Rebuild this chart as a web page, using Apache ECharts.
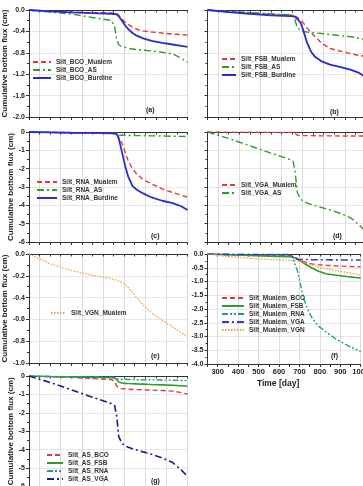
<!DOCTYPE html>
<html>
<head>
<meta charset="utf-8">
<script src="https://cdn.jsdelivr.net/npm/echarts@6/dist/echarts.min.js"></script>
<style>
html,body{margin:0;padding:0;overflow:hidden;background:#fff;width:363px;height:486px;}
#c{width:372px;height:490px;}
</style>
</head>
<body>
<div id="c"></div>
<script>
// ---- data (time in days, cumulative bottom flux in cm) ----
const days = [250, 350, 450, 550, 640, 655, 665, 675, 690, 705, 720, 740, 760, 790, 830, 880, 930, 970, 1000];

const bcoMualem  = [0, -0.025, -0.04, -0.05, -0.055, -0.058, -0.06, -0.1, -0.17, -0.23, -0.27, -0.32, -0.36, -0.39, -0.41, -0.43, -0.45, -0.46, -0.47];
const bcoAS      = [0, -0.04, -0.075, -0.14, -0.195, -0.3, -0.55, -0.65, -0.69, -0.7, -0.72, -0.73, -0.74, -0.75, -0.765, -0.79, -0.82, -0.9, -0.98];
const bcoBurdine = [0, -0.025, -0.045, -0.06, -0.07, -0.075, -0.08, -0.12, -0.2, -0.29, -0.36, -0.43, -0.48, -0.53, -0.575, -0.615, -0.645, -0.67, -0.69];

const fsbMualem  = [0, -0.03, -0.05, -0.08, -0.095, -0.1, -0.11, -0.14, -0.18, -0.25, -0.33, -0.42, -0.5, -0.62, -0.72, -0.77, -0.82, -0.85, -0.87];
const fsbAS      = [0, -0.03, -0.05, -0.07, -0.09, -0.1, -0.2, -0.33, -0.38, -0.4, -0.41, -0.42, -0.43, -0.44, -0.46, -0.48, -0.5, -0.53, -0.56];
const fsbBurdine = [0, -0.04, -0.07, -0.1, -0.115, -0.12, -0.13, -0.17, -0.23, -0.4, -0.6, -0.78, -0.88, -0.96, -1.02, -1.07, -1.12, -1.18, -1.26];

const rnaMualem  = [0, -0.02, -0.04, -0.05, -0.06, -0.07, -0.1, -0.3, -0.6, -1.1, -1.6, -2.0, -2.3, -2.6, -2.83, -3.1, -3.3, -3.45, -3.55];
const rnaAS      = [0, -0.02, -0.04, -0.05, -0.07, -0.08, -0.14, -0.17, -0.18, -0.18, -0.19, -0.19, -0.2, -0.2, -0.21, -0.22, -0.23, -0.24, -0.25];
const rnaBurdine = [0, -0.02, -0.04, -0.05, -0.07, -0.08, -0.12, -0.36, -1.1, -1.85, -2.45, -2.95, -3.15, -3.35, -3.57, -3.75, -3.88, -4.05, -4.25];

const vgaMualem  = [0, -0.005, -0.01, -0.02, -0.02, -0.03, -0.1, -0.17, -0.19, -0.2, -0.2, -0.2, -0.205, -0.21, -0.21, -0.215, -0.22, -0.22, -0.22];
const vgaAS      = [0, -0.35, -0.75, -1.15, -1.5, -1.6, -2.2, -3.3, -3.65, -3.8, -3.87, -3.95, -4.02, -4.12, -4.25, -4.45, -4.7, -5.1, -5.45];

const vgnMualem  = [0, -0.09, -0.15, -0.195, -0.225, -0.235, -0.24, -0.25, -0.26, -0.28, -0.31, -0.35, -0.4, -0.47, -0.54, -0.61, -0.67, -0.72, -0.76];

const xTicks = [300, 400, 500, 600, 700, 800, 900, 1000];

// ---- styles ----
const RED = '#e0383c', GREEN = '#2f9a2f', BLUE = '#2a2ad0', TEAL = '#1f9e89', PURPLE = '#3a3ab8', NAVY = '#1c1c8c', ORANGE = '#f0a040';
const DASH = [5, 3], DASHDOT = [7, 3, 2, 3], DASHDOTDOT = [6, 2, 2, 2, 2, 2], DOT = [1.5, 1.5];

const L = 29, W = 158.5, R = 207.5;
const panels = [
  {grid:{left:L, top:10, width:W, height:107}, y:[-2,0,0.4], dec:1, labels:true, name:true,
   legend:{left:32, top:58.5, w:18}, tag:'(a)', tagPos:[146,107],
   series:[['Silt_BCO_Mualem', bcoMualem, RED, DASH, 1.4], ['Silt_BCO_AS', bcoAS, GREEN, DASHDOT, 1.4], ['Silt_BCO_Burdine', bcoBurdine, BLUE, 'solid', 1.8]]},
  {grid:{left:R, top:10, width:W, height:107}, y:[-2,0,0.4], dec:1, labels:false, name:false,
   legend:{left:221, top:55.5, w:14}, tag:'(b)', tagPos:[330,109],
   series:[['Silt_FSB_Mualem', fsbMualem, RED, DASH, 1.4], ['Silt_FSB_AS', fsbAS, GREEN, DASHDOT, 1.4], ['Silt_FSB_Burdine', fsbBurdine, BLUE, 'solid', 1.8]]},
  {grid:{left:L, top:132, width:W, height:110}, y:[-6,0,1], dec:0, labels:true, name:true,
   legend:{left:36, top:178.5, w:20}, tag:'(c)', tagPos:[151,233],
   series:[['Silt_RNA_Mualem', rnaMualem, RED, DASH, 1.4], ['Silt_RNA_AS', rnaAS, GREEN, DASHDOT, 1.4], ['Silt_RNA_Burdine', rnaBurdine, BLUE, 'solid', 1.8]]},
  {grid:{left:R, top:132, width:W, height:110}, y:[-6,0,1], dec:0, labels:false, name:false,
   legend:{left:221, top:181.5, w:14}, tag:'(d)', tagPos:[333,233],
   series:[['Silt_VGA_Mualem', vgaMualem, RED, DASH, 1.4], ['Silt_VGA_AS', vgaAS, GREEN, DASHDOT, 1.4]]},
  {grid:{left:L, top:254, width:W, height:109}, y:[-1,0,0.2], dec:1, labels:true, name:true,
   legend:{left:50, top:309.5, w:15}, tag:'(e)', tagPos:[151,353],
   series:[['Silt_VGN_Mualem', vgnMualem, ORANGE, DOT, 1.3]]},
  {grid:{left:R, top:254, width:W, height:110}, y:[-4,0,0.5], dec:1, labels:true, name:false, xlabels:true,
   legend:{left:221, top:294.5, w:22}, tag:'(f)', tagPos:[331,353],
   series:[['Silt_Mualem_BCO', bcoMualem, RED, DASH, 1.4], ['Silt_Mualem_FSB', fsbMualem, GREEN, 'solid', 1.6],
           ['Silt_Mualem_RNA', rnaMualem, TEAL, DASHDOTDOT, 1.4], ['Silt_Mualem_VGA', vgaMualem, PURPLE, DASHDOT, 1.6],
           ['Silt_Mualem_VGN', vgnMualem, ORANGE, DOT, 1.3]]},
  {grid:{left:L, top:376, width:W, height:111}, y:[-6,0,1], dec:0, labels:true, name:true,
   legend:{left:46, top:451.5, w:16}, tag:'(g)', tagPos:[151,478],
   series:[['Silt_AS_BCO', bcoAS, RED, DASH, 1.4], ['Silt_AS_FSB', fsbAS, GREEN, 'solid', 1.6],
           ['Silt_AS_RNA', rnaAS, TEAL, DASHDOTDOT, 1.4], ['Silt_AS_VGA', vgaAS, NAVY, DASHDOT, 1.6]]}
];

const FONT = 'Liberation Sans, Arial, sans-serif';
const option = {animation:false, backgroundColor:'#fff', grid:[], xAxis:[], yAxis:[], series:[], legend:[], title:[]};

panels.forEach((p, i) => {
  option.grid.push(Object.assign({containLabel:false}, p.grid));
  option.xAxis.push({
    type:'value', gridIndex:i, min:250, max:1000, interval:50, position:'bottom',
    axisLine:{show:true, onZero:false, lineStyle:{color:'#333', width:1}},
    axisTick:{show:true, inside:false, length:3, lineStyle:{color:'#333'}},
    axisLabel:{show:!!p.xlabels, margin:4, fontSize:7.5, fontWeight:'bold', color:'#222', fontFamily:FONT,
      formatter: v => xTicks.indexOf(v) >= 0 ? String(v) : ''},
    splitLine:{show:true, showMinLine:true, showMaxLine:true, lineStyle:{color:['rgba(0,0,0,0)', '#dcdcdc'], width:1}},
    name: p.xlabels ? 'Time [day]' : '', nameLocation:'middle', nameGap:15,
    nameTextStyle:{fontSize:8.5, fontWeight:'bold', color:'#222', fontFamily:FONT, padding:[0,12,0,0]}
  });
  option.xAxis.push({
    type:'value', gridIndex:i, min:250, max:1000, interval:50, position:'top',
    axisLine:{show:true, onZero:false, lineStyle:{color:'#333', width:1}},
    axisTick:{show:true, inside:true, length:2.5, lineStyle:{color:'#333'}},
    axisLabel:{show:false}, splitLine:{show:false}
  });
  option.yAxis.push({
    type:'value', gridIndex:i, min:p.y[0], max:p.y[1], interval:p.y[2],
    axisLine:{show:true, onZero:false, lineStyle:{color:'#333', width:1}},
    axisTick:{show:true, inside:false, length:3, lineStyle:{color:'#333'}},
    minorTick:{show:true, splitNumber:2, length:2, lineStyle:{color:'#333'}},
    axisLabel:{show:p.labels, margin:4, fontSize:7, fontWeight:'bold', color:'#222', fontFamily:FONT,
      formatter: v => (Math.abs(v) < 1e-9 ? 0 : v).toFixed(p.dec)},
    splitLine:{show:true, lineStyle:{color:'#e6e6e6', width:1}},
    name: p.name ? 'Cumulative bottom flux (cm)' : '', nameLocation:'middle', nameGap:12,
    nameTextStyle:{fontSize:8, fontWeight:'bold', color:'#222', fontFamily:FONT}
  });
  const names = [];
  p.series.forEach(s => {
    names.push(s[0]);
    option.series.push({
      name:s[0], type:'line', xAxisIndex:2*i, yAxisIndex:i, symbol:'none', showSymbol:false,
      lineStyle:{color:s[2], type:s[3], width:s[4]}, itemStyle:{color:s[2]},
      data: days.map((d, k) => [d, s[1][k]])
    });
  });
  option.legend.push({
    data:names, orient:'vertical', left:p.legend.left, top:p.legend.top,
    itemWidth:p.legend.w, itemHeight:7, itemGap:1, padding:0,
    itemStyle:{opacity:0},
    textStyle:{fontSize:6.5, fontWeight:'bold', color:'#333', fontFamily:FONT}
  });
  option.title.push({
    text:p.tag, left:p.tagPos[0], top:p.tagPos[1], padding:0,
    textStyle:{fontSize:7, fontWeight:'bold', color:'#222', fontFamily:FONT}
  });
});

const chart = echarts.init(document.getElementById('c'), null, {renderer:'canvas'});
chart.setOption(option);
</script>
</body>
</html>
